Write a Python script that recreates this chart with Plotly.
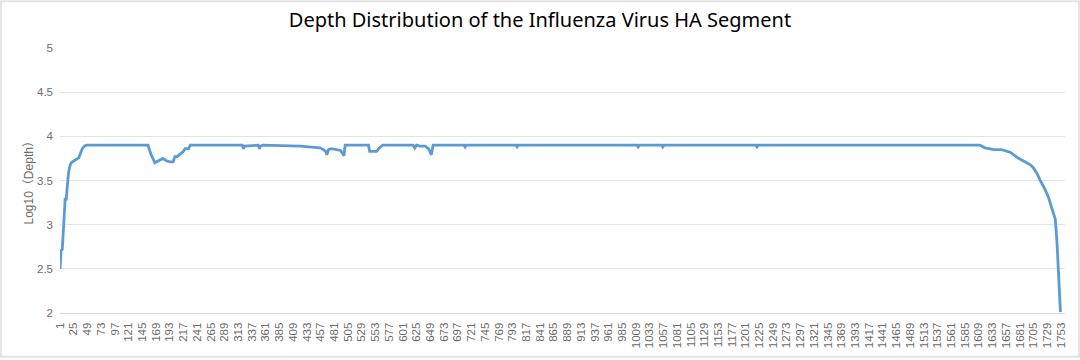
import plotly.graph_objects as go

# Breakpoints of the depth curve (nucleotide position, log10 depth)
positions = [1, 2, 3, 5, 7, 9, 10, 12, 13, 14, 16, 19, 22, 25, 30, 34, 37, 40, 44, 48,
             155, 160, 167, 173, 181, 188, 193, 199, 202, 206, 211, 217, 220, 226, 229,
             320, 322, 324, 348, 350, 352, 356, 421, 440, 456, 462, 466, 468, 471, 476,
             485, 492, 496, 498, 500, 541, 543, 555, 562, 566, 619, 622, 625, 631, 640,
             646, 651, 654, 708, 710, 712, 799, 801, 803, 1011, 1013, 1015, 1054, 1056, 1058,
             1219, 1221, 1223, 1611, 1620, 1635, 1649, 1664, 1678, 1693, 1700, 1705, 1711,
             1716, 1721, 1725, 1731, 1737, 1741, 1743, 1746, 1749, 1752]
log_depth = [2.50, 2.70, 2.71, 2.72, 2.99, 3.15, 3.29, 3.29, 3.42, 3.45, 3.59, 3.68, 3.71, 3.72, 3.74, 3.76, 3.82, 3.86, 3.89, 3.90,
             3.90, 3.80, 3.70, 3.72, 3.75, 3.72, 3.71, 3.71, 3.77, 3.77, 3.80, 3.83, 3.86, 3.86, 3.90,
             3.90, 3.86, 3.89, 3.90, 3.86, 3.89, 3.90, 3.89, 3.88, 3.87, 3.85, 3.83, 3.79, 3.85, 3.86,
             3.85, 3.84, 3.80, 3.78, 3.90, 3.90, 3.83, 3.83, 3.88, 3.90, 3.90, 3.87, 3.90, 3.89, 3.89,
             3.86, 3.79, 3.90, 3.90, 3.88, 3.90, 3.90, 3.88, 3.90, 3.90, 3.88, 3.90, 3.90, 3.88, 3.90,
             3.90, 3.88, 3.90, 3.90, 3.87, 3.85, 3.85, 3.82, 3.755, 3.70, 3.675, 3.64, 3.58,
             3.51, 3.45, 3.40, 3.31, 3.19, 3.11, 3.06, 2.80, 2.39, 2.01]

x_ticks = list(range(1, 1754, 24))
y_ticks = [2, 2.5, 3, 3.5, 4, 4.5, 5]

title_text = "Depth Distribution of the Influenza Virus HA Segment"
y_title = "Log10（Depth）"

fig = go.Figure()
fig.add_trace(go.Scatter(x=positions, y=log_depth, mode="lines",
                         line=dict(color="#5B9BD5", width=2.8), hoverinfo="x+y"))

tick_font = dict(family="Liberation Sans, Arial, sans-serif", size=11.5, color="#6b6b6b")

fig.update_layout(
    width=1080, height=360,
    margin=dict(l=60, r=15, t=48, b=45),
    paper_bgcolor="white", plot_bgcolor="white",
    showlegend=False,
    title=dict(text=title_text, x=0.5, xanchor="center", y=1 - 20 / 360, yanchor="middle",
               yref="container",
               font=dict(family="Noto Sans, sans-serif", size=20, color="#000000")),
    xaxis=dict(range=[1, 1760], tickmode="array", tickvals=x_ticks,
               ticktext=[str(v) for v in x_ticks], tickangle=-90, tickfont=tick_font,
               showgrid=False, zeroline=False, showline=True, linecolor="#d9d9d9",
               linewidth=1, ticks="", ticklabelstandoff=4),
    yaxis=dict(range=[2, 5], tickmode="array", tickvals=y_ticks,
               ticktext=[str(v) for v in y_ticks], tickfont=tick_font,
               showgrid=True, gridcolor="#e3e3e3", gridwidth=1, zeroline=False,
               showline=False, ticks="", ticklabelstandoff=6),
    annotations=[dict(text=y_title, xref="paper", yref="paper",
                      x=(28 - 60) / 1005, y=0.5, xanchor="center", yanchor="middle",
                      textangle=-90, showarrow=False,
                      font=dict(family="Liberation Sans, Noto Sans CJK SC, sans-serif",
                                size=12, color="#6b6b6b"))],
    shapes=[dict(type="rect", xref="paper", yref="paper",
                 x0=-59 / 1005, x1=1019 / 1005, y0=(315 - 359) / 267, y1=(315 - 1) / 267,
                 line=dict(color="#e3e3e3", width=2), fillcolor="rgba(0,0,0,0)", layer="below")],
)

fig.write_html("out.html", config={"displayModeBar": False},
               post_script="document.body.style.margin='0';document.body.style.padding='0';")
